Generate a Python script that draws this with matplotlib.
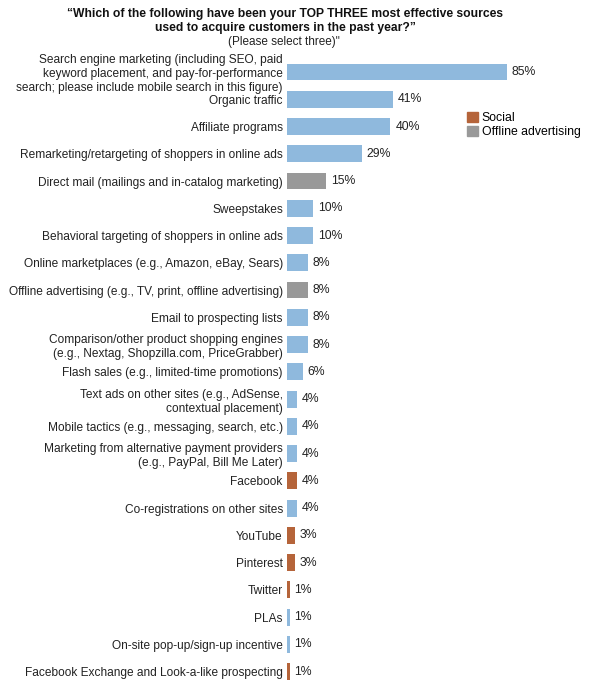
import matplotlib.pyplot as plt
from matplotlib.patches import Patch

plt.rcParams['font.family'] = ['Liberation Sans', 'DejaVu Sans']

# Data
sources = [
    "Search engine marketing (including SEO, paid\nkeyword placement, and pay-for-performance\nsearch; please include mobile search in this figure)",
    "Organic traffic",
    "Affiliate programs",
    "Remarketing/retargeting of shoppers in online ads",
    "Direct mail (mailings and in-catalog marketing)",
    "Sweepstakes",
    "Behavioral targeting of shoppers in online ads",
    "Online marketplaces (e.g., Amazon, eBay, Sears)",
    "Offline advertising (e.g., TV, print, offline advertising)",
    "Email to prospecting lists",
    "Comparison/other product shopping engines\n(e.g., Nextag, Shopzilla.com, PriceGrabber)",
    "Flash sales (e.g., limited-time promotions)",
    "Text ads on other sites (e.g., AdSense,\ncontextual placement)",
    "Mobile tactics (e.g., messaging, search, etc.)",
    "Marketing from alternative payment providers\n(e.g., PayPal, Bill Me Later)",
    "Facebook",
    "Co-registrations on other sites",
    "YouTube",
    "Pinterest",
    "Twitter",
    "PLAs",
    "On-site pop-up/sign-up incentive",
    "Facebook Exchange and Look-a-like prospecting",
]
percent = [85, 41, 40, 29, 15, 10, 10, 8, 8, 8, 8, 6, 4, 4, 4, 4, 4, 3, 3, 1, 1, 1, 1]
group = ["online", "online", "online", "online", "offline", "online", "online",
         "online", "offline", "online", "online", "online", "online", "online",
         "online", "social", "online", "social", "social", "social", "online",
         "online", "social"]

colors = {"online": "#8fb9dd", "social": "#b5643a", "offline": "#999999"}

fig = plt.figure(figsize=(5.9, 6.89), dpi=100)
ax = fig.add_axes([287 / 590, 0.0054, 303 / 590, 0.9099])

y = list(range(len(sources)))
bars = ax.barh(y, percent, height=0.62, color=[colors[g] for g in group])
ax.bar_label(bars, labels=[f"{p}%" for p in percent], padding=3.5, fontsize=8.8, color="#222222")

ax.set_ylim(len(sources) - 0.5, -0.5)
ax.set_xlim(0, 303 / 2.585)
ax.set_yticks(y)
ax.set_yticklabels(sources, fontsize=8.6, color="#222222", linespacing=1.22)
ax.tick_params(axis="y", length=0, pad=3)
ax.set_xticks([])
for s in ax.spines.values():
    s.set_visible(False)

fig.text(285 / 590, 1 - 21 / 689,
         "\u201cWhich of the following have been your TOP THREE most effective sources\nused to acquire customers in the past year?\u201d",
         ha="center", va="center", fontsize=8.7, fontweight="bold", linespacing=1.26, color="#111111")
fig.text(284 / 590, 1 - 42 / 689, "(Please select three)\"", ha="center", va="center",
         fontsize=8.5, color="#222222")

handles = [Patch(color=colors["social"], label="Social"),
           Patch(color=colors["offline"], label="Offline advertising")]
fig.legend(handles=handles, loc="upper left", bbox_to_anchor=(467 / 590, 1 - 112 / 689),
           frameon=False, fontsize=8.8, handlelength=0.9, handleheight=0.9,
           handletextpad=0.3, labelspacing=0.15, borderpad=0, borderaxespad=0)

fig.savefig("out.png", dpi=100)
